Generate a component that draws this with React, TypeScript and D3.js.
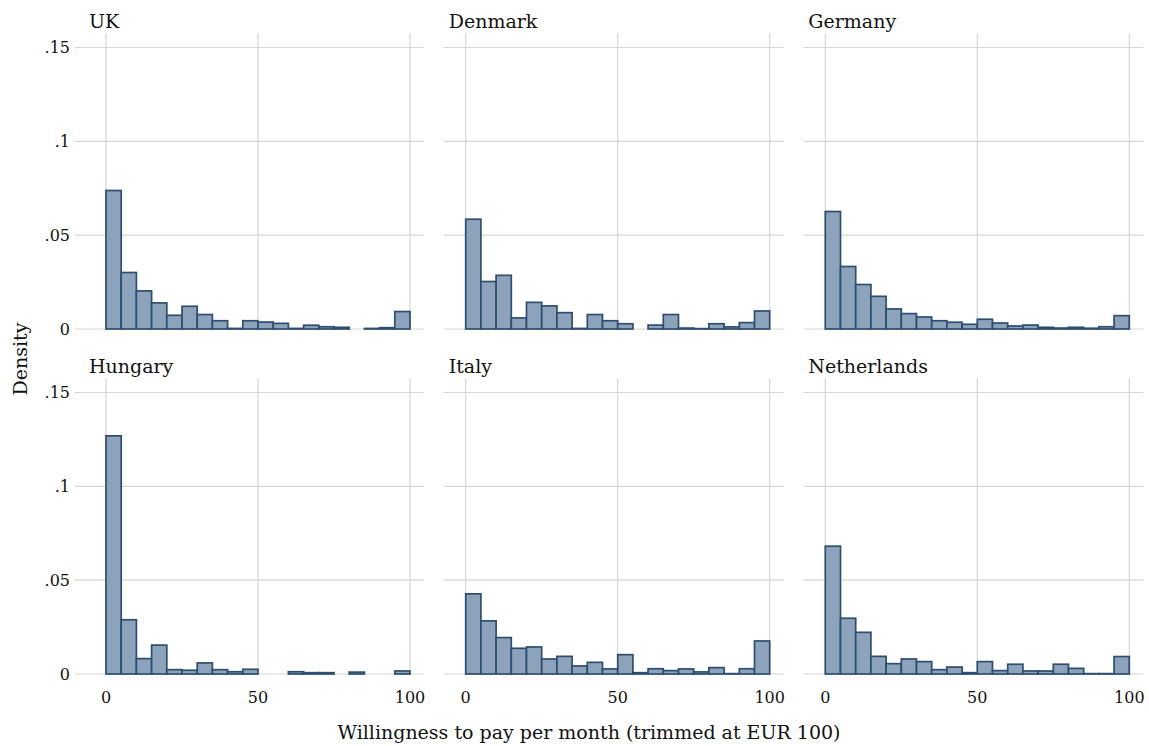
import * as d3 from "d3";

const countries = ["UK", "Denmark", "Germany", "Hungary", "Italy", "Netherlands"];
const binEdges = d3.range(0, 101, 5);

const ukDensity = [0.0738, 0.0301, 0.0203, 0.0139, 0.0073, 0.0121, 0.0077, 0.0044, 0.0003, 0.0044, 0.0037, 0.003, 0.0003, 0.002, 0.0012, 0.0009, 0, 0.0003, 0.0007, 0.0093];
const denmarkDensity = [0.0585, 0.0253, 0.0286, 0.0059, 0.0142, 0.0123, 0.0087, 0.0003, 0.0077, 0.0044, 0.0028, 0, 0.0021, 0.0077, 0.0005, 0.0002, 0.0028, 0.0011, 0.0034, 0.0096];
const germanyDensity = [0.0626, 0.0333, 0.0237, 0.0174, 0.0107, 0.0082, 0.0064, 0.0044, 0.0036, 0.0025, 0.0052, 0.0032, 0.0016, 0.0021, 0.0009, 0.0005, 0.0009, 0.0004, 0.0012, 0.0071];
const hungaryDensity = [0.1269, 0.0289, 0.0082, 0.0154, 0.0023, 0.002, 0.0059, 0.0023, 0.0012, 0.0025, 0, 0, 0.0012, 0.0007, 0.0007, 0, 0.001, 0, 0, 0.0016];
const italyDensity = [0.0427, 0.0283, 0.0194, 0.0137, 0.0144, 0.008, 0.0094, 0.0043, 0.0062, 0.0027, 0.0103, 0.0007, 0.0028, 0.0018, 0.0027, 0.0011, 0.0034, 0.0002, 0.0028, 0.0176];
const netherlandsDensity = [0.0681, 0.0297, 0.0222, 0.0094, 0.0055, 0.008, 0.0066, 0.0023, 0.0037, 0.0007, 0.0066, 0.0018, 0.0052, 0.0016, 0.0016, 0.0052, 0.003, 0.0002, 0.0002, 0.0093];

const densities = [ukDensity, denmarkDensity, germanyDensity, hungaryDensity, italyDensity, netherlandsDensity];
const yTicks = [0, 0.05, 0.1, 0.15];
const xTicks = [0, 50, 100];

const W = 1149;
const H = 746;
const font = "'DejaVu Serif', serif";
const fillColor = "#8ca3bb";
const strokeColor = "#2d4e70";
const gridColor = "#d6d6d6";

const colX0 = [106, 465.7, 825.3];
const rowY0 = [329, 674];
const panelW = 304;
const panelH = 281.5;

const fmtY = (v: number) => (v === 0 ? "0" : d3.format(".2~f")(v).replace(/^0/, ""));

function Panel({ idx }: { idx: number }) {
  const col = idx % 3;
  const row = Math.floor(idx / 3);
  const x = d3.scaleLinear().domain([0, 100]).range([colX0[col], colX0[col] + panelW]);
  const y = d3.scaleLinear().domain([0, 0.15]).range([rowY0[row], rowY0[row] - panelH]);
  const gridLeft = x(0) - (col === 0 ? 31 : 22);
  const gridRight = x(100) + 14;
  const gridTop = y(0.15) - 14;
  const data = densities[idx];

  return (
    <g>
      {yTicks.map((t) => (
        <line key={"h" + t} x1={gridLeft} x2={gridRight} y1={y(t)} y2={y(t)} stroke={gridColor} strokeWidth={1.2} />
      ))}
      {xTicks.map((t) => (
        <line key={"v" + t} x1={x(t)} x2={x(t)} y1={gridTop} y2={y(0)} stroke={gridColor} strokeWidth={1.2} />
      ))}
      {data.map((d, i) =>
        d > 0 ? (
          <rect
            key={i}
            x={x(binEdges[i])}
            width={x(binEdges[i + 1]) - x(binEdges[i])}
            y={y(d)}
            height={y(0) - y(d)}
            fill={fillColor}
            stroke={strokeColor}
            strokeWidth={1.7}
          />
        ) : null
      )}
      <text x={x(0) - 17} y={y(0.15) - 20} fontFamily={font} fontSize={19} fill="#111">
        {countries[idx]}
      </text>
      {col === 0 &&
        yTicks.map((t) => (
          <text key={"yl" + t} x={gridLeft - 5} y={y(t)} dy="0.35em" textAnchor="end" fontFamily={font} fontSize={16} fill="#111">
            {fmtY(t)}
          </text>
        ))}
      {row === 1 &&
        xTicks.map((t) => (
          <text key={"xl" + t} x={x(t)} y={y(0) + 29} textAnchor="middle" fontFamily={font} fontSize={16} fill="#111">
            {t}
          </text>
        ))}
    </g>
  );
}

export default function App() {
  return (
    <svg width={W} height={H} style={{ position: "absolute", left: 0, top: 0, background: "#fff" }}>
      <rect width={W} height={H} fill="#fff" />
      {countries.map((c, i) => (
        <Panel key={c} idx={i} />
      ))}
      <text
        transform={`translate(27,359) rotate(-90)`}
        textAnchor="middle"
        fontFamily={font}
        fontSize={19}
        fill="#111"
      >
        Density
      </text>
      <text x={589} y={739} textAnchor="middle" fontFamily={font} fontSize={19} fill="#111">
        Willingness to pay per month (trimmed at EUR 100)
      </text>
    </svg>
  );
}
